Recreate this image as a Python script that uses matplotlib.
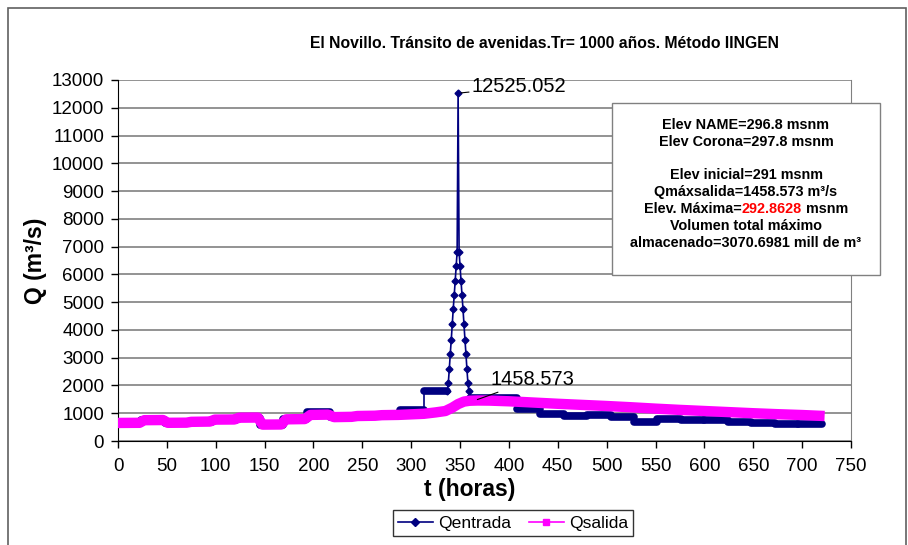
import numpy as np
import matplotlib
matplotlib.use('Agg')
import matplotlib.pyplot as plt
from matplotlib.lines import Line2D
from matplotlib.patches import Rectangle

plt.rcParams['font.family'] = ['Liberation Sans', 'DejaVu Sans']

# Qentrada: constant steps (start hour, end hour, flow)
step_t0 = [0, 24, 48, 72, 96, 121, 145, 169, 193, 217, 241, 265, 289, 313,
           360, 408, 432, 456, 480, 504, 528, 552, 576, 600, 624, 648, 672, 696]
step_t1 = [24, 48, 72, 96, 121, 145, 169, 193, 217, 241, 265, 289, 313, 337,
           408, 432, 456, 480, 504, 528, 552, 576, 600, 624, 648, 672, 696, 720]
step_q = [650, 750, 650, 690, 770, 840, 590, 780, 1050, 850, 900, 930, 1110, 1810,
          1560, 1145, 965, 900, 930, 880, 670, 780, 770, 740, 670, 660, 620, 615]

# Qentrada: hourly points around the peak
peak_t = [337, 338, 339, 340, 341, 342, 343, 344, 345, 346, 347, 348,
          349, 350, 351, 352, 353, 354, 355, 356, 357, 358, 359, 360]
peak_q = [1810, 2100, 2600, 3150, 3650, 4200, 4750, 5250, 5750, 6300, 6800, 12525.052,
          6800, 6300, 5750, 5250, 4750, 4200, 3650, 3150, 2600, 2100, 1800, 1560]

# Qsalida
out_t = [0, 22, 27, 46, 51, 70, 75, 94, 99, 119, 124, 143, 148, 167, 172, 191,
         197, 215, 221, 239, 245, 263, 270, 287, 300, 313, 325, 335, 342, 348,
         354, 360, 368, 380, 400, 425, 450, 475, 500, 525, 550, 575, 600, 625,
         650, 675, 700, 723]
out_q = [650, 655, 750, 755, 655, 660, 690, 700, 770, 775, 840, 845, 590, 595, 780, 790,
         940, 950, 860, 870, 900, 910, 930, 940, 960, 980, 1030, 1080, 1200, 1330,
         1420, 1450, 1458.573, 1455, 1430, 1385, 1340, 1300, 1260, 1215, 1165, 1120, 1080, 1040,
         1000, 965, 935, 900]

info_lines = ['Elev NAME=296.8 msnm', 'Elev Corona=297.8 msnm', '',
              'Elev inicial=291 msnm', 'Qmáxsalida=1458.573 m³/s',
              None, 'Volumen total máximo', 'almacenado=3070.6981 mill de m³']
elev_max = '292.8628'

navy = '#000080'
magenta = '#FF00FF'

fig = plt.figure(figsize=(9.08, 5.45), dpi=100)
ax = fig.add_axes([118/908, 1-441/545, (851-118)/908, (441-80)/545])

# Qentrada
for a, b, q in zip(step_t0, step_t1, step_q):
    ax.plot([a, b], [q, q], color=navy, lw=5.5, solid_capstyle='round', zorder=2)
for i in range(len(step_t0) - 1):
    if step_t1[i] == step_t0[i + 1]:
        ax.plot([step_t1[i], step_t0[i + 1]], [step_q[i], step_q[i + 1]], color=navy, lw=1.2, zorder=2)
ax.plot(peak_t, peak_q, color=navy, lw=1.2, marker='D', markersize=3.5, zorder=2)

# Qsalida
ax.plot(out_t, out_q, color=magenta, lw=7.5, solid_capstyle='butt', solid_joinstyle='round', zorder=3)

ax.set_xlim(0, 750)
ax.set_ylim(0, 13000)
ax.set_xticks(np.arange(0, 751, 50))
ax.set_yticks(np.arange(0, 13001, 1000))
ax.grid(True, axis='y', color='#808080', lw=1.2)
ax.set_axisbelow(True)
ax.spines['top'].set_visible(False)
ax.spines['right'].set_color('#808080')
ax.spines['left'].set_color('black')
ax.spines['bottom'].set_color('black')
ax.tick_params(axis='both', direction='out', length=5, width=1, labelsize=13.5, colors='black')
ax.tick_params(axis='x', pad=7)
ax.tick_params(axis='y', pad=5)

ax.set_xlabel('t (horas)', fontsize=16.5, fontweight='bold')
ax.xaxis.set_label_coords((470-118)/733, -(478-441)/361)
ax.set_ylabel('Q (m³/s)', fontsize=16.5, fontweight='bold')
ax.yaxis.set_label_coords(-(118-47)/733, 0.5)

ax.annotate('12525.052', xy=(348, 12525.052), xytext=(362, 12750),
            fontsize=14.5, va='center', ha='left',
            arrowprops=dict(arrowstyle='-', lw=0.8, color='black', shrinkA=0, shrinkB=2))
ax.annotate('1458.573', xy=(365, 1458.573), xytext=(381, 2200),
            fontsize=14.5, va='center', ha='left',
            arrowprops=dict(arrowstyle='-', lw=0.8, color='black', shrinkA=0, shrinkB=2))

fig.text(545/908, 1-44/545, 'El Novillo. Tránsito de avenidas.Tr= 1000 años. Método IINGEN',
         fontsize=11.3, fontweight='bold', ha='center', va='center')

# info box
fig.patches.append(Rectangle((612/908, 1-275/545), (880-612)/908, (275-103)/545,
                             transform=fig.transFigure, facecolor='white',
                             edgecolor='#808080', lw=1, zorder=5))
line_y = [125, 142, 158, 175, 192, 209, 226, 243]
cx = 746/908
fs_box = 10.4
for txt, yy in zip(info_lines, line_y):
    if txt:
        fig.text(cx, 1-yy/545, txt, fontsize=fs_box, fontweight='bold', ha='center', va='center', zorder=6)

fig.canvas.draw()
r = fig.canvas.get_renderer()
parts = [('Elev. Máxima=', 'black'), (elev_max, 'red'), (' msnm', 'black')]
objs = [fig.text(0, 1-line_y[5]/545, p, color=c, fontsize=fs_box, fontweight='bold',
                 ha='left', va='center', zorder=6) for p, c in parts]
widths = [o.get_window_extent(r).width for o in objs]
x0 = 746 - sum(widths) / 2
for o, w in zip(objs, widths):
    o.set_x(x0/908)
    x0 += w

# legend
h1 = Line2D([], [], color=navy, lw=1.2, marker='D', markersize=4)
h2 = Line2D([], [], color=magenta, lw=1.2, marker='s', markersize=5)
leg = fig.legend([h1, h2], ['Qentrada', 'Qsalida'], loc='center',
                 bbox_to_anchor=(513/908, 1-523/545), ncol=2, fontsize=12.6,
                 frameon=True, fancybox=False, edgecolor='black', handlelength=2,
                 handletextpad=0.3, columnspacing=1.0, borderpad=0.3)
leg.get_frame().set_linewidth(1)

# outer chart border
fig.patches.append(Rectangle((8/908, -0.02), (906-8)/908, 1.02-8/545,
                             transform=fig.transFigure, fill=False,
                             edgecolor='#606060', lw=1.2))

fig.savefig('out.png', dpi=100)
